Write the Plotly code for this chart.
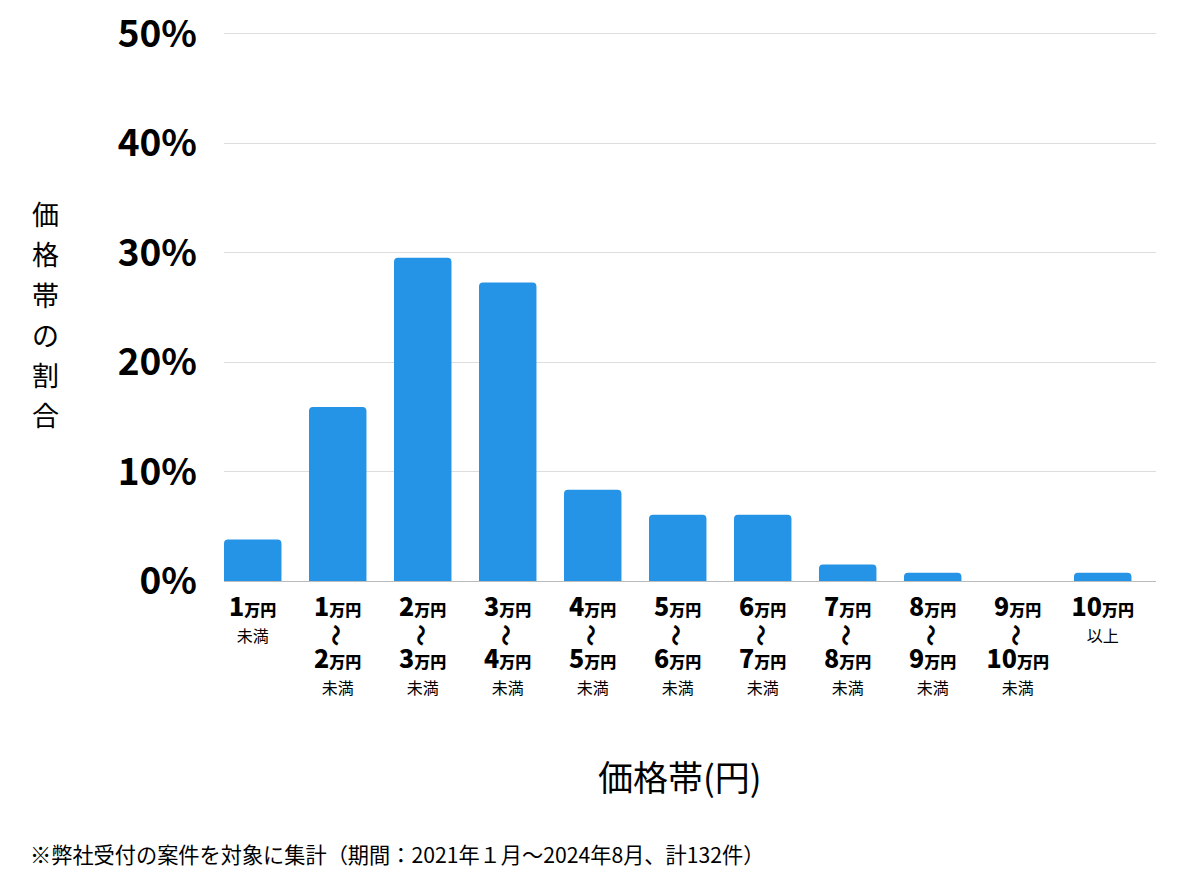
import plotly.graph_objects as go

# 価格帯ごとの件数（計132件）
lower = ["1", "1", "2", "3", "4", "5", "6", "7", "8", "9", "10"]
upper = [None, "2", "3", "4", "5", "6", "7", "8", "9", "10", None]
counts = [5, 21, 39, 36, 11, 8, 8, 2, 1, 0, 1]
total = 132
shares = [c / total * 100 for c in counts]

y_ticks = [0, 10, 20, 30, 40, 50]
y_title = "価格帯の割合"
x_title = "価格帯(円)"
note = "※弊社受付の案件を対象に集計（期間：2021年１月〜2024年8月、計132件）"

FONT = "Noto Sans CJK JP"
small = "<span style='font-size:16px;font-weight:normal'>"


def man(n):
    return (f"<span style='font-size:25px;font-weight:900'>{n}</span>"
            f"<span style='font-size:16px;font-weight:900'>万円</span>")


cats = [f"c{i}" for i in range(len(counts))]
ticktext = []
for i, (lo, up) in enumerate(zip(lower, upper)):
    if i == 0:
        ticktext.append(man(lo) + "<br>" + small + "未満</span>")
    elif up is None:
        ticktext.append(man(lo) + "<br>" + small + "以上</span>")
    else:
        # middle line left blank, the wave is drawn as a rotated annotation
        ticktext.append(man(lo) + "<br>&nbsp;<br>" + man(up) + "<br>" + small + "未満</span>")

fig = go.Figure(go.Bar(
    x=cats, y=shares,
    marker=dict(color="#2593e6", line_width=0, cornerradius=4),
    hoverinfo="skip",
))

# the page adds an 8px body margin, so the figure is shifted by 8px
fig.update_layout(
    width=1184, height=866,
    paper_bgcolor="white", plot_bgcolor="white",
    margin=dict(l=216, r=36, t=15, b=293, autoexpand=False),
    bargap=0.324,
    showlegend=False,
    font=dict(family=FONT, color="black"),
)
fig.update_xaxes(
    tickvals=cats, ticktext=ticktext,
    range=[-0.338, 10.627],
    tickfont=dict(size=20, family=FONT, color="black"),
    showgrid=False, showline=True, linecolor="#bbbbbb", linewidth=1,
    ticks="", ticklabelstandoff=10, fixedrange=True, automargin=False,
)
fig.update_yaxes(
    range=[0, 51], tickvals=y_ticks, ticktext=[f"{v}%" for v in y_ticks],
    tickfont=dict(size=37, family=FONT, color="black", weight="bold"),
    showgrid=True, gridcolor="#dddddd", gridwidth=1,
    zeroline=False, ticklabelstandoff=26, ticklabeloverflow="allow",
    fixedrange=True, automargin=False,
)

ph = 558.0

# 「〜」を縦向きに
for i, up in enumerate(upper):
    if i == 0 or up is None:
        continue
    fig.add_annotation(
        text="<b>〜</b>", x=cats[i], xref="x", yref="paper", y=(581 - 635) / ph,
        textangle=90, xanchor="center", yanchor="middle", showarrow=False,
        font=dict(size=22, family=FONT, color="black"),
    )

for k, ch in enumerate(y_title):
    fig.add_annotation(
        text=ch, xref="paper", yref="paper", x=-0.192, y=(581 - 214 - 40 * k) / ph,
        xanchor="center", yanchor="middle", showarrow=False,
        font=dict(size=27, family=FONT, color="black"),
    )

fig.add_annotation(
    text=x_title, xref="paper", yref="paper", x=0.489, y=(581 - 775) / ph,
    xanchor="center", yanchor="middle", showarrow=False,
    font=dict(size=35, family=FONT, color="black"),
)
fig.add_annotation(
    text=note, xref="paper", yref="paper", x=-0.21, y=(581 - 853) / ph,
    xanchor="left", yanchor="middle", showarrow=False,
    font=dict(size=21.2, family=FONT, color="black"),
)

fig.write_html("out.html")
